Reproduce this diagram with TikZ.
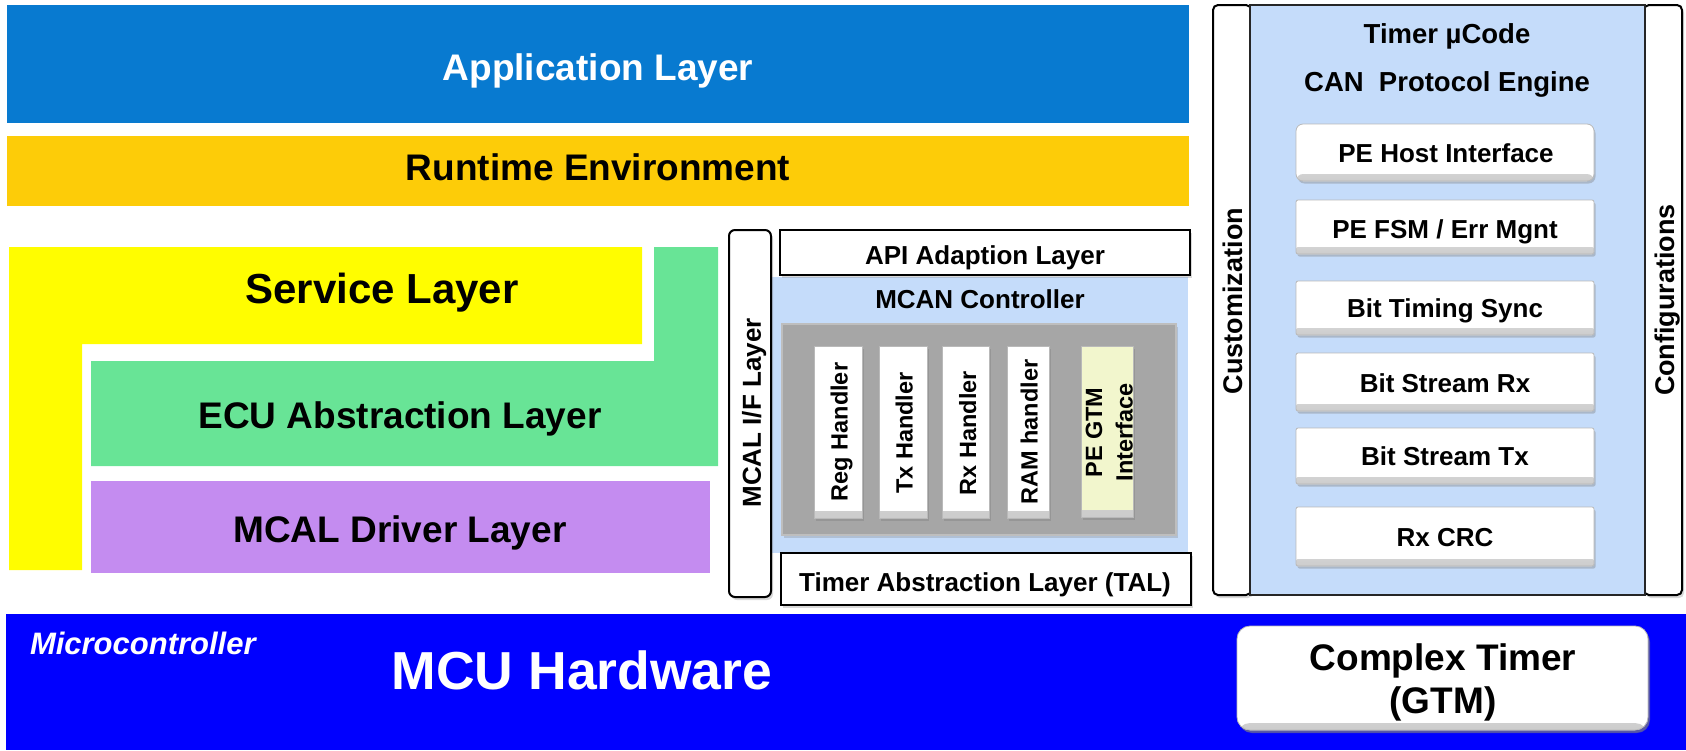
\documentclass[tikz,border=0pt]{standalone}
\usepackage{fontspec}
\setmainfont{Liberation Sans}
\usetikzlibrary{shadows}
\definecolor{appblue}{RGB}{8,122,208}
\definecolor{rteyellow}{RGB}{253,204,8}
\definecolor{svcyellow}{RGB}{255,253,0}
\definecolor{ecugreen}{RGB}{104,228,150}
\definecolor{mcalpurple}{RGB}{196,140,240}
\definecolor{hwblue}{RGB}{0,0,255}
\definecolor{paleblue}{RGB}{197,220,250}
\definecolor{ctrlgray}{RGB}{166,166,166}
\definecolor{gtmcream}{RGB}{242,246,205}
\newcommand\fsz[1]{\fontsize{#1pt}{#1pt}\selectfont\bfseries}
\begin{document}
\begin{tikzpicture}[x=1pt,y=-1pt,
  txt/.style={inner sep=0pt, outer sep=0pt, text depth=0pt},
  area/.style={inner sep=0pt, outer sep=0pt},
  shade drop/.style={drop shadow={shadow xshift=2pt, shadow yshift=-3pt, opacity=0.3}},
  framed/.style={area, fill=white, draw=black, line width=2pt, shade drop},
  bevel/.style={area, fill=#1, draw=gray!55, line width=0.8pt,
    drop shadow={shadow xshift=1.5pt, shadow yshift=-2.5pt, opacity=0.4},
    path picture={\fill[top color=#1, bottom color=gray!40]
      ([yshift=7pt]path picture bounding box.south west) rectangle
      (path picture bounding box.south east);}},
  bevel/.default=white]
\useasboundingbox (0,0) rectangle (1686,750);

% ---- AUTOSAR stack ----
\node[area, fill=appblue, minimum width=1182pt, minimum height=118pt] (app) at (598,64) {};
\node[txt, text=white, font=\fsz{37}] (apptext) at (598,67) {Application Layer};

\node[area, fill=rteyellow, minimum width=1182pt, minimum height=70pt] (rte) at (598,171) {};
\node[txt, font=\fsz{37}] (rtetext) at (598,167) {Runtime Environment};

\fill[svcyellow] (9,247) -- (642,247) -- (642,344) -- (82,344) -- (82,570) -- (9,570) -- cycle;
\node[txt, font=\fsz{42}] (svctext) at (382,288) {Service Layer};

\fill[ecugreen] (654,247) -- (718,247) -- (718,466) -- (91,466) -- (91,361) -- (654,361) -- cycle;
\node[txt, font=\fsz{37}] (ecutext) at (400,415) {ECU Abstraction Layer};

\node[area, fill=mcalpurple, minimum width=619pt, minimum height=92pt] (mcal) at (400.5,527) {};
\node[txt, font=\fsz{37}] (mcaltext) at (400,529) {MCAL Driver Layer};

% ---- MCAN controller block ----
\node[area, fill=paleblue, minimum width=423pt, minimum height=276pt] (mcanbg) at (976.5,415) {};
\node[txt, font=\fsz{26}] (mcantext) at (980,299.5) {MCAN Controller};

\node[area, fill=ctrlgray, draw={rgb,255:red,190;green,190;blue,190}, line width=1.5pt, shade drop,
      minimum width=394pt, minimum height=211pt] (ctrl) at (979,429.5) {};

\node[bevel, minimum width=48pt, minimum height=172pt] (reg) at (838,432) {};
\node[bevel, minimum width=48pt, minimum height=172pt] (txh) at (903,432) {};
\node[bevel, minimum width=47pt, minimum height=172pt] (rxh) at (965.5,432) {};
\node[bevel, minimum width=42pt, minimum height=172pt] (ramh) at (1028,432) {};
\node[bevel=gtmcream, minimum width=52pt, minimum height=171pt] (pegtm) at (1107,431.5) {};
\node[txt, rotate=90, font=\fsz{23.5}] (regtext) at (839,432) {Reg Handler};
\node[txt, rotate=90, font=\fsz{23.5}] (txtext) at (904,433) {Tx Handler};
\node[txt, rotate=90, font=\fsz{23.5}] (rxtext) at (967.5,433) {Rx Handler};
\node[txt, rotate=90, font=\fsz{23.5}] (ramtext) at (1029,432) {RAM handler};
\node[txt, rotate=90, font=\fsz{23.5}] (pegtmtext1) at (1094,432.5) {PE GTM};
\node[txt, rotate=90, font=\fsz{23.5}] (pegtmtext2) at (1124,432.5) {Interface};

\node[framed, minimum width=410pt, minimum height=45pt] (api) at (985,252.5) {};
\node[txt, font=\fsz{26}] (apitext) at (985,255.5) {API Adaption Layer};

\node[framed, minimum width=410pt, minimum height=52pt] (tal) at (986,579) {};
\node[txt, font=\fsz{26}] (taltext) at (985,582) {Timer Abstraction Layer (TAL)};

\node[framed, rounded corners=6pt, minimum width=42pt, minimum height=367pt] (mcalif) at (750,413.5) {};
\node[txt, rotate=90, font=\fsz{26}] (mcaliftext) at (751.5,413) {MCAL I/F Layer};

% ---- Timer uCode protocol engine ----
\node[framed, rounded corners=5pt, minimum width=38pt, minimum height=590pt] (cust) at (1232,300) {};
\node[framed, rounded corners=5pt, minimum width=38pt, minimum height=590pt] (conf) at (1663,300) {};
\node[area, fill=paleblue, draw=black!85, line width=1.5pt, minimum width=395pt, minimum height=590pt] (pepanel) at (1447.5,300) {};
\node[txt, rotate=90, font=\fsz{27}] (custtext) at (1233,301) {Customization};
\node[txt, rotate=90, font=\fsz{27}] (conftext) at (1665,300) {Configurations};

\node[txt, font=\fsz{27.5}] (ucodetext) at (1447,34) {Timer µCode};
\node[txt, font=\fsz{27.5}] (canpetext) at (1447,81.7) {CAN\ \ Protocol Engine};

\node[bevel, rounded corners=7pt, minimum width=298pt, minimum height=57pt] (pehost) at (1445,152.5) {};
\node[bevel, rounded corners=2pt, minimum width=298pt, minimum height=54pt] (pefsm) at (1445,227) {};
\node[bevel, rounded corners=2pt, minimum width=298pt, minimum height=54pt] (bitsync) at (1445,308) {};
\node[bevel, rounded corners=2pt, minimum width=298pt, minimum height=58pt] (bsrx) at (1445,382) {};
\node[bevel, rounded corners=2pt, minimum width=298pt, minimum height=56pt] (bstx) at (1445,456) {};
\node[bevel, rounded corners=2pt, minimum width=298pt, minimum height=59pt] (rxcrc) at (1445,536.5) {};
\node[txt, font=\fsz{26}] (pehosttext) at (1446,153) {PE Host Interface};
\node[txt, font=\fsz{26}] (pefsmtext) at (1445,228.7) {PE FSM / Err Mgnt};
\node[txt, font=\fsz{26}] (bitsynctext) at (1445,308) {Bit Timing Sync};
\node[txt, font=\fsz{26}] (bsrxtext) at (1445,383) {Bit Stream Rx};
\node[txt, font=\fsz{26}] (bstxtext) at (1445,456) {Bit Stream Tx};
\node[txt, font=\fsz{26}] (rxcrctext) at (1445,537.7) {Rx CRC};

% ---- hardware ----
\node[area, fill=hwblue, minimum width=1680pt, minimum height=136pt] (mcu) at (846,682) {};
\node[txt, anchor=west, text=white, font=\fsz{31}\itshape] (uctext) at (30,643) {Microcontroller};
\node[txt, text=white, font=\fsz{53.5}] (mcutext) at (582,670) {MCU Hardware};

\node[bevel, rounded corners=13pt, minimum width=411pt, minimum height=104pt,
      drop shadow={shadow xshift=2pt, shadow yshift=-3pt, opacity=0.5}] (gtm) at (1442.5,678) {};
\node[txt, font=\fsz{37}] (gtmtext1) at (1443,657) {Complex Timer};
\node[txt, font=\fsz{37}] (gtmtext2) at (1443,700.5) {(GTM)};
\end{tikzpicture}
\end{document}
